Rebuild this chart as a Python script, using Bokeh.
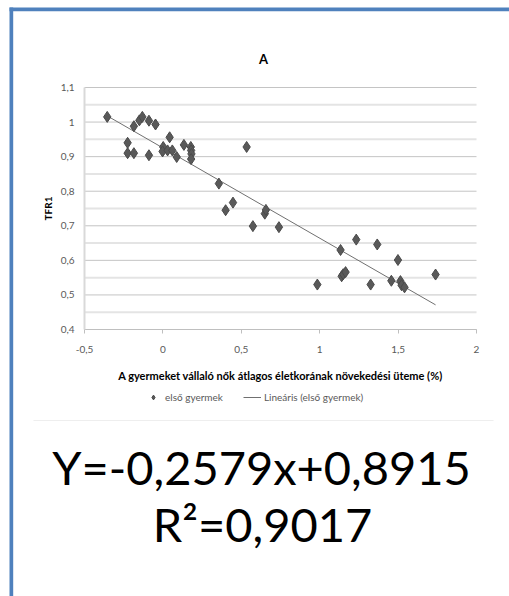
import numpy as np
from bokeh.plotting import figure
from bokeh.models import (Range1d, Legend, LegendItem, LinearAxis,
                          CustomJSTickFormatter, FixedTicker, ColumnDataSource)
from bokeh.core.properties import value
from bokeh.embed import file_html
from bokeh.resources import INLINE

# ---- data ----
x_growth = [-0.355, -0.225, -0.225, -0.185, -0.185, -0.150, -0.131, -0.089, -0.089, -0.047,
            0.002, -0.002, 0.043, 0.030, 0.060, 0.088, 0.134, 0.178, 0.180, 0.182,
            0.180, 0.534, 0.357, 0.400, 0.447, 0.574, 0.650, 0.657, 0.740, 0.985,
            1.133, 1.140, 1.150, 1.165, 1.233, 1.325, 1.367, 1.457, 1.499, 1.515,
            1.522, 1.541, 1.739]
y_tfr = [1.015, 0.940, 0.910, 0.910, 0.988, 1.005, 1.015, 1.004, 0.904, 0.993,
         0.928, 0.915, 0.956, 0.918, 0.918, 0.899, 0.934, 0.928, 0.918, 0.908,
         0.893, 0.928, 0.822, 0.745, 0.767, 0.699, 0.735, 0.746, 0.696, 0.530,
         0.630, 0.554, 0.560, 0.566, 0.660, 0.530, 0.646, 0.541, 0.601, 0.540,
         0.528, 0.522, 0.559]
y_ticks = [0.4, 0.5, 0.6, 0.7, 0.8, 0.9, 1.0, 1.1]
y_minor = [0.45, 0.55, 0.65, 0.75, 0.85, 0.95, 1.05]
x_ticks = [-0.5, 0.0, 0.5, 1.0, 1.5, 2.0]
chart_title = "A"
x_title = "A gyermeket vállaló nők átlagos életkorának növekedési üteme (%)"
y_title = "TFR1"
series_name = "első gyermek"
trend_name = "Lineáris (első gyermek)"
eq_line1 = "Y=-0,2579x+0,8915"
eq_line2 = "R²=0,9017"

FONT = "Lato"
W, H = 509, 596
# pixel box of the plotting area inside the canvas
PX0, PX1, PY0, PY1 = 84, 476, 87, 329
XMIN, XMAX, YMIN, YMAX = x_ticks[0], x_ticks[-1], y_ticks[0], y_ticks[-1]
kx = (PX1 - PX0) / (XMAX - XMIN)
ky = (PY1 - PY0) / (YMAX - YMIN)
x_range = Range1d(XMIN - PX0 / kx, XMAX + (W - PX1) / kx)
y_range = Range1d(YMIN - (H - PY1) / ky, YMAX + PY0 / ky)

p = figure(width=W, height=H, output_backend="svg", toolbar_location=None,
           x_range=x_range, y_range=y_range,
           x_axis_location=None, y_axis_location=None,
           min_border=0, min_border_left=0, min_border_right=0,
           min_border_top=0, min_border_bottom=0)
p.extra_x_ranges = {"px": Range1d(0, W)}
p.extra_y_ranges = {"py": Range1d(H, 0)}
p.outline_line_color = None
p.background_fill_color = "white"
p.border_fill_color = "white"
p.grid.visible = False

fmt = CustomJSTickFormatter(code="return (Math.round(tick*100)/100).toString().replace('.', ',');")

# horizontal gridlines (minor lighter, major gray)
p.segment(x0=[XMIN] * len(y_minor), x1=[XMAX] * len(y_minor), y0=y_minor, y1=y_minor,
          line_color="#e4e4e4", line_width=2)
p.segment(x0=[XMIN] * len(y_ticks), x1=[XMAX] * len(y_ticks), y0=y_ticks, y1=y_ticks,
          line_color="#c4c4c4", line_width=1)

# y axis
ya = LinearAxis(ticker=FixedTicker(ticks=y_ticks, minor_ticks=[]), formatter=fmt,
                bounds=(YMIN, YMAX), fixed_location=XMIN)
ya.axis_line_color = "#d9d9d9"
ya.axis_line_width = 2
ya.major_tick_out = 0
ya.major_tick_in = 0
ya.minor_tick_out = 0
ya.minor_tick_in = 0
ya.major_label_standoff = 10
ya.major_label_text_font = FONT
ya.major_label_text_font_size = "10px"
ya.major_label_text_color = "#595959"
ya.axis_label = y_title
ya.axis_label_text_font = FONT
ya.axis_label_text_font_style = "bold"
ya.axis_label_text_font_size = "10px"
ya.axis_label_text_color = "#000000"
ya.axis_label_standoff = 4
p.add_layout(ya, "left")

# x axis
xa = LinearAxis(ticker=FixedTicker(ticks=x_ticks, minor_ticks=[]), formatter=fmt,
                bounds=(XMIN, XMAX), fixed_location=YMIN)
xa.axis_line_color = "#bfbfbf"
xa.major_tick_line_color = "#bfbfbf"
xa.major_tick_out = 4
xa.major_tick_in = 0
xa.minor_tick_out = 0
xa.minor_tick_in = 0
xa.major_label_standoff = 12
xa.major_label_text_font = FONT
xa.major_label_text_font_size = "10px"
xa.major_label_text_color = "#595959"
xa.axis_label = x_title
xa.axis_label_text_font = FONT
xa.axis_label_text_font_style = "bold"
xa.axis_label_text_font_size = "11px"
xa.axis_label_text_color = "#000000"
xa.axis_label_standoff = 13
p.add_layout(xa, "below")

# trend line (least squares fit of the data)
xs = np.array(x_growth)
ys = np.array(y_tfr)
m, c = np.polyfit(xs, ys, 1)
tx = [xs.min(), xs.max()]
ty = [m * tx[0] + c, m * tx[1] + c]
ln = p.line(tx, ty, line_color="#707070", line_width=1)

src = ColumnDataSource(dict(x=x_growth, y=y_tfr))
sc = p.scatter("x", "y", source=src, marker="diamond", size=11,
               fill_color="#595959", line_color="#4a4a4a", line_width=1)

legend = Legend(items=[LegendItem(label=series_name, renderers=[sc]),
                       LegendItem(label=trend_name, renderers=[ln])],
                orientation="horizontal", location=(144, H - 403))
legend.border_line_color = None
legend.background_fill_alpha = 0
legend.label_text_font = FONT
legend.label_text_font_size = "10px"
legend.label_text_color = "#595959"
legend.glyph_width = 18
legend.glyph_height = 12
legend.label_standoff = 3
legend.spacing = 20
legend.padding = 0
legend.margin = 0
legend.label_height = 12
p.add_layout(legend, "center")

# title
p.text(x=[263], y=[58], text=[chart_title], x_range_name="px", y_range_name="py",
       text_font=value(FONT), text_font_style="bold", text_font_size="13px",
       text_color="#000000", text_align="center", text_baseline="middle")

# equation texts
p.text(x=[261, 262], y=[466, 523], text=[eq_line1, eq_line2],
       x_range_name="px", y_range_name="py",
       text_font=value(FONT), text_font_size="47px", text_color="#000000",
       text_align="center", text_baseline="alphabetic")

# blue frame (top and left) and faint chart-area border
p.quad(left=[9, 9], right=[W, 12.7], top=[7, 7], bottom=[10.7, H],
       x_range_name="px", y_range_name="py",
       fill_color="#4f81bd", line_color=None)
p.quad(left=[33], right=[493], top=[419.5], bottom=[420.5],
       x_range_name="px", y_range_name="py",
       fill_color="#eeeeee", line_color=None)

open("out.html", "w").write(file_html(p, INLINE))
